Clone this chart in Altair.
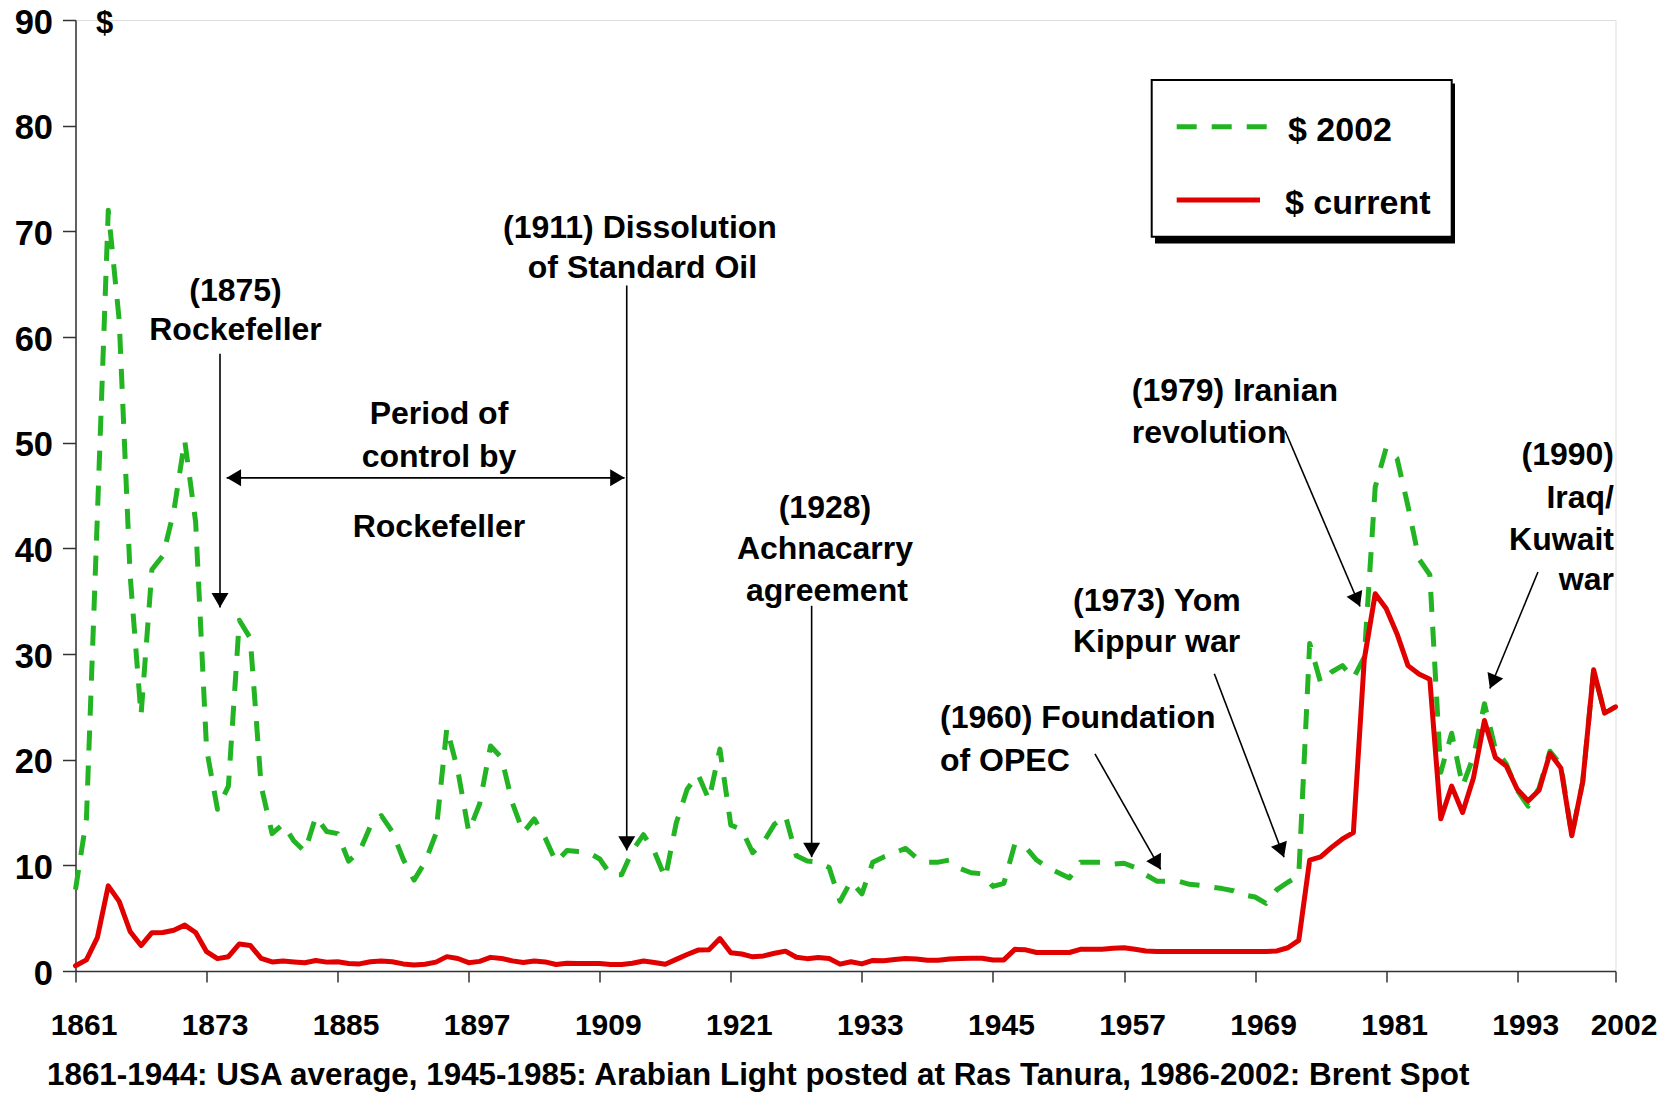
import math
import altair as alt
import pandas as pd

# ---------------- data ----------------
years = list(range(1861, 2003))

price_current = [
    0.49, 1.05, 3.15, 8.06, 6.59, 3.74, 2.41, 3.63, 3.64, 3.86,   # 1861-1870
    4.34, 3.64, 1.83, 1.17, 1.35, 2.56, 2.42, 1.19, 0.86, 0.95,   # 1871-1880
    0.86, 0.78, 1.00, 0.84, 0.88, 0.71, 0.67, 0.88, 0.94, 0.87,   # 1881-1890
    0.67, 0.56, 0.64, 0.84, 1.36, 1.18, 0.79, 0.91, 1.29, 1.19,   # 1891-1900
    0.96, 0.80, 0.94, 0.86, 0.62, 0.73, 0.72, 0.72, 0.70, 0.61,   # 1901-1910
    0.61, 0.74, 0.95, 0.81, 0.64, 1.10, 1.56, 1.98, 2.01, 3.07,   # 1911-1920
    1.73, 1.61, 1.34, 1.43, 1.68, 1.88, 1.30, 1.17, 1.27, 1.19,   # 1921-1930
    0.65, 0.87, 0.67, 1.00, 0.97, 1.09, 1.18, 1.13, 1.02, 1.02,   # 1931-1940
    1.14, 1.19, 1.20, 1.21, 1.05, 1.05, 2.05, 2.00, 1.75, 1.75,   # 1941-1950
    1.75, 1.75, 2.05, 2.05, 2.05, 2.15, 2.20, 2.05, 1.90, 1.85,   # 1951-1960
    1.85, 1.85, 1.85, 1.85, 1.85, 1.85, 1.85, 1.85, 1.85, 1.85,   # 1961-1970
    1.90, 2.20, 2.90, 10.5, 10.8, 11.7, 12.5, 13.1, 29.5, 35.7,   # 1971-1980
    34.3, 31.9, 28.9, 28.1, 27.6, 14.4, 17.5, 15.0, 18.3, 23.7,   # 1981-1990
    20.2, 19.4, 17.2, 16.1, 17.1, 20.6, 19.2, 12.8, 17.9, 28.5,   # 1991-2000
    24.4, 25.0,                                                   # 2001-2002
]

price_2002 = [
    7.7, 14.4, 43.0, 72.0, 61.6, 37.5, 24.2, 38.0, 39.3, 43.5,    # 1861-1870
    50.2, 42.5, 21.0, 15.3, 17.5, 33.2, 31.5, 17.5, 13.0, 13.9,   # 1871-1880
    12.3, 11.3, 14.6, 13.2, 13.0, 10.4, 11.3, 13.7, 14.7, 13.2,   # 1881-1890
    10.6, 8.6, 10.3, 13.0, 23.0, 19.0, 13.2, 15.8, 21.3, 20.2,    # 1891-1900
    15.9, 13.1, 14.4, 12.6, 10.3, 11.4, 11.3, 11.2, 10.6, 9.1,    # 1901-1910
    9.1, 11.4, 12.9, 11.3, 8.8, 14.0, 17.2, 18.6, 16.2, 21.0,     # 1911-1920
    13.8, 13.4, 11.2, 12.2, 13.9, 14.7, 10.9, 10.4, 10.3, 9.8,    # 1921-1930
    6.6, 8.5, 7.3, 10.3, 10.8, 11.2, 11.6, 10.7, 10.3, 10.3,      # 1931-1940
    10.5, 9.7, 9.3, 9.2, 8.0, 8.3, 12.0, 11.7, 10.5, 9.8,         # 1941-1950
    9.3, 8.8, 10.3, 10.3, 10.3, 10.1, 10.2, 9.8, 9.1, 8.5,        # 1951-1960
    8.5, 8.5, 8.2, 8.1, 7.95, 7.8, 7.6, 7.2, 7.0, 6.4,            # 1961-1970
    7.7, 8.4, 9.0, 31.0, 27.3, 28.3, 28.9, 27.7, 29.7, 45.8,      # 1971-1980
    49.5, 48.5, 44.0, 39.0, 37.5, 18.8, 22.5, 17.5, 20.3, 25.3,   # 1981-1990
    21.0, 19.6, 17.1, 15.6, 17.3, 20.8, 19.5, 12.8, 17.9, 28.5,   # 1991-2000
    24.4, 25.0,                                                   # 2001-2002
]

series_names = ["$ 2002", "$ current"]
x_ticks = [1861, 1873, 1885, 1897, 1909, 1921, 1933, 1945, 1957, 1969, 1981, 1993, 2002]
y_ticks = [0, 10, 20, 30, 40, 50, 60, 70, 80, 90]

# annotation texts (anchor in data units: year, $)
center_text = ["$", "(1875)", "Rockefeller", "Period of", "control by", "Rockefeller",
               "(1911) Dissolution", "of Standard Oil", "(1928)", "Achnacarry", "agreement"]
center_year = [1863.67, 1875.65, 1875.65, 1894.28, 1894.28, 1894.28,
               1912.68, 1912.91, 1929.62, 1929.62, 1929.80]
center_val = [89.6, 64.4, 60.7, 52.7, 48.6, 42.05, 70.3, 66.5, 43.85, 39.9, 36.0]

left_text = ["(1960) Foundation", "of OPEC", "(1973) Yom", "Kippur war", "(1979) Iranian", "revolution"]
left_year = [1940.15, 1940.15, 1952.33, 1952.33, 1957.71, 1957.71]
left_val = [23.9, 19.9, 35.05, 31.15, 54.85, 50.9]

right_text = ["(1990)", "Iraq/", "Kuwait", "war"]
right_year = [2001.86, 2001.86, 2001.86, 2001.86]
right_val = [48.8, 44.8, 40.75, 37.0]

# arrows: start (year, $) -> tip (year, $)
arrow_x1 = [1874.23, 1911.47, 1928.40, 1954.34, 1965.27, 1971.74, 1994.90]
arrow_y1 = [58.41, 64.87, 34.56, 20.55, 28.13, 51.15, 37.76]
arrow_x2 = [1874.23, 1911.47, 1928.40, 1960.36, 1971.65, 1978.61, 1990.50]
arrow_y2 = [34.40, 11.40, 10.77, 9.61, 10.77, 34.49, 26.73]
# double-headed arrow for the period of control
period_x = [1874.84, 1911.27]
period_y = 46.67

footer = "1861-1944: USA average, 1945-1985: Arabian Light posted at Ras Tanura, 1986-2002: Brent Spot"

# ---------------- layout constants ----------------
W, H = 1540, 951
X_MIN, X_MAX, Y_MAX = 1861, 2002, 90
KX = W / (X_MAX - X_MIN)
KY = H / Y_MAX
FONT = "Liberation Sans"
GREEN = "#22B422"
RED = "#E00000"

# ---------------- tables ----------------
lines_df = pd.DataFrame({
    "year": years * 2,
    "value": price_2002 + price_current,
    "series": [series_names[0]] * len(years) + [series_names[1]] * len(years),
})

rules_df = pd.DataFrame({
    "x1": arrow_x1 + [period_x[0]],
    "y1": arrow_y1 + [period_y],
    "x2": arrow_x2 + [period_x[1]],
    "y2": arrow_y2 + [period_y],
})


def head_angle(xs, ys, xt, yt):
    dx = (xt - xs) * KX
    dy = -(yt - ys) * KY
    return math.degrees(math.atan2(-dx, dy)) % 360


heads = []
for a, b, c, d in zip(arrow_x1, arrow_y1, arrow_x2, arrow_y2):
    heads.append({"hx": c, "hy": d, "ang": head_angle(a, b, c, d)})
heads.append({"hx": period_x[0], "hy": period_y, "ang": head_angle(period_x[1], period_y, period_x[0], period_y)})
heads.append({"hx": period_x[1], "hy": period_y, "ang": head_angle(period_x[0], period_y, period_x[1], period_y)})
heads_df = pd.DataFrame(heads)

center_df = pd.DataFrame({"t": center_text, "x": center_year, "y": center_val,
                          "fs": [31] + [32] * (len(center_text) - 1)})
left_df = pd.DataFrame({"t": left_text, "x": left_year, "y": left_val})
right_df = pd.DataFrame({"t": right_text, "x": right_year, "y": right_val})

# ---------------- encodings ----------------
xscale = alt.Scale(domain=[X_MIN, X_MAX], nice=False, zero=False)
yscale = alt.Scale(domain=[0, Y_MAX], nice=False, zero=True)
xaxis = alt.Axis(values=x_ticks, format="d", title=None, grid=False,
                 labelFontSize=30, labelFontWeight="bold", labelColor="black", labelFont=FONT,
                 labelPadding=28, labelOffset=8, labelFlush=False, labelOverlap=False,
                 tickSize=11, tickColor="#333333", tickWidth=1.5,
                 domainColor="#333333", domainWidth=1.5)
yaxis = alt.Axis(values=y_ticks, title=None, grid=False,
                 labelFontSize=34.5, labelFontWeight="bold", labelColor="black", labelFont=FONT,
                 labelPadding=10, labelOffset=3, labelOverlap=False, labelFlush=False,
                 tickSize=13, tickColor="#333333", tickWidth=1.5,
                 domainColor="#333333", domainWidth=1.5)


def X(f):
    return alt.X(f, type="quantitative", scale=xscale, axis=xaxis)


def Y(f):
    return alt.Y(f, type="quantitative", scale=yscale, axis=yaxis)


base = alt.Chart(lines_df)

green_line = base.transform_filter(alt.datum.series == series_names[0]).mark_line(
    color=GREEN, strokeWidth=5, strokeDash=[20, 15], strokeCap="butt", strokeJoin="round"
).encode(x=X("year"), y=Y("value"))

red_line = base.transform_filter(alt.datum.series == series_names[1]).mark_line(
    color=RED, strokeWidth=5, strokeJoin="round", strokeCap="round"
).encode(x=X("year"), y=Y("value"))

rules = alt.Chart(rules_df).mark_rule(color="black", strokeWidth=1.6).encode(
    x=X("x1"), x2="x2", y=Y("y1"), y2="y2")

arrowheads = alt.Chart(heads_df).mark_point(
    shape="M0,0L-0.65,-1.1L0.65,-1.1Z", filled=True, color="black", opacity=1, size=684, strokeWidth=0
).encode(x=X("hx"), y=Y("hy"), angle=alt.Angle("ang:Q", scale=None))

txt = dict(baseline="middle", fontWeight="bold", font=FONT, color="black")
center_labels = alt.Chart(center_df).mark_text(align="center", **txt).encode(
    x=X("x"), y=Y("y"), text="t:N", size=alt.Size("fs:Q", scale=None, legend=None))
left_labels = alt.Chart(left_df).mark_text(align="left", fontSize=32, **txt).encode(
    x=X("x"), y=Y("y"), text="t:N")
right_labels = alt.Chart(right_df).mark_text(align="right", fontSize=32, **txt).encode(
    x=X("x"), y=Y("y"), text="t:N")

# ---------------- legend (drawn box with shadow) ----------------
one = pd.DataFrame({"k": [0]})
leg_shadow = alt.Chart(one).mark_rect(color="black").encode(
    x=alt.value(1079.5), x2=alt.value(1379.5), y=alt.value(63.5), y2=alt.value(223.5))
leg_box = alt.Chart(one).mark_rect(fill="white", stroke="black", strokeWidth=2).encode(
    x=alt.value(1076.2), x2=alt.value(1376.2), y=alt.value(60), y2=alt.value(216.7))
leg_green = alt.Chart(one).mark_rule(color=GREEN, strokeWidth=5, strokeDash=[20, 15], strokeCap="butt").encode(
    x=alt.value(1101.2), x2=alt.value(1191.2), y=alt.value(106.7))
leg_red = alt.Chart(one).mark_rule(color=RED, strokeWidth=5, strokeCap="butt").encode(
    x=alt.value(1101.2), x2=alt.value(1184.5), y=alt.value(180))
leg_t1 = alt.Chart(one).mark_text(align="left", fontSize=34, text=series_names[0], **txt).encode(
    x=alt.value(1212.5), y=alt.value(110.5))
leg_t2 = alt.Chart(one).mark_text(align="left", fontSize=34, text=series_names[1], **txt).encode(
    x=alt.value(1209.5), y=alt.value(183.5))

footer_mark = alt.Chart(one).mark_text(align="left", baseline="alphabetic", fontSize=31.4,
                                       fontWeight="bold", font=FONT, color="black", text=footer).encode(
    x=alt.value(-28.5), y=alt.value(1065))

chart = alt.layer(
    green_line, red_line, rules, arrowheads, center_labels, left_labels, right_labels,
    leg_shadow, leg_box, leg_green, leg_red, leg_t1, leg_t2, footer_mark,
).properties(
    width=W, height=H,
    autosize=alt.AutoSizeParams(type="none"),
    padding={"left": 67.5, "top": 12, "right": 45, "bottom": 122},
    background="white",
).configure_view(stroke=None).configure(font=FONT)

chart.save("out.html", embed_options={"renderer": "svg", "actions": False})
